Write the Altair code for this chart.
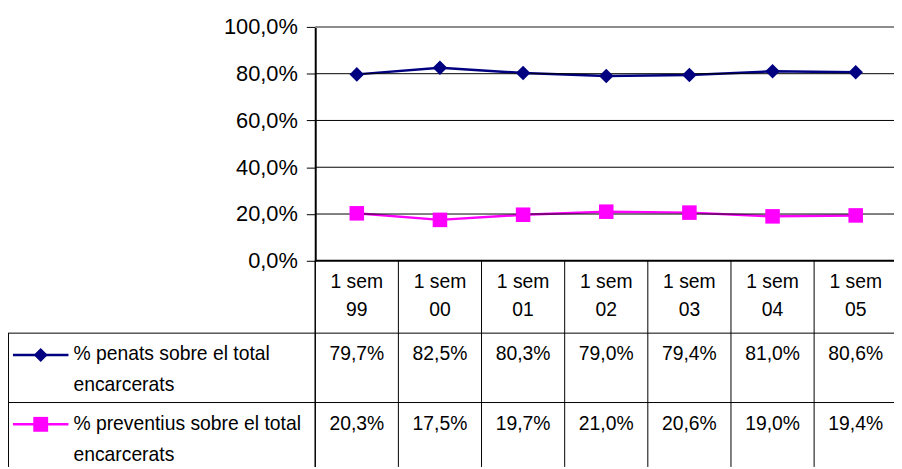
import altair as alt
import pandas as pd

# ---- data ----
periods_top = ["1 sem", "1 sem", "1 sem", "1 sem", "1 sem", "1 sem", "1 sem"]
periods_bottom = ["99", "00", "01", "02", "03", "04", "05"]
penats = [79.7, 82.5, 80.3, 79.0, 79.4, 81.0, 80.6]
preventius = [20.3, 17.5, 19.7, 21.0, 20.6, 19.0, 19.4]
series_names = ["% penats sobre el total encarcerats",
                "% preventius sobre el total encarcerats"]
legend_line1 = ["% penats sobre el total", "% preventius sobre el total"]
legend_line2 = ["encarcerats", "encarcerats"]
y_ticks = [0, 20, 40, 60, 80, 100]

FONT = "Liberation Sans, Arial, sans-serif"
NAVY = "#000080"
MAGENTA = "#FF00FF"
TFS = 19.5

n = len(periods_bottom)
idx = list(range(n))

long_rows = []
for i in idx:
    long_rows.append({"i": i, "series": series_names[0], "v": penats[i]})
    long_rows.append({"i": i, "series": series_names[1], "v": preventius[i]})
long_df = pd.DataFrame(long_rows)

xs = alt.Scale(domain=[-0.5, n - 0.5], range=[310, 310 + 83.9 * n])
ys = alt.Scale(domain=[0, 100], range=[253, 17])
color_scale = alt.Scale(domain=series_names, range=[NAVY, MAGENTA])
shape_scale = alt.Scale(domain=series_names, range=["diamond", "square"])

y_axis = alt.Axis(values=y_ticks,
                  labelExpr="replace(format(datum.value, '.1f'), '.', ',') + '%'",
                  offset=-310, tickSize=9, tickColor="black", tickWidth=1,
                  domain=True, domainColor="black", domainWidth=2, grid=False,
                  title=None, labelFont=FONT, labelFontSize=22, labelColor="black",
                  labelPadding=9)

# data lines (first layer, owns the y axis)
lines = alt.Chart(long_df).mark_line(strokeWidth=2.5).encode(
    x=alt.X("i:Q", scale=xs, axis=None),
    y=alt.Y("v:Q", scale=ys, axis=y_axis),
    color=alt.Color("series:N", scale=color_scale, legend=None),
    detail="series:N")
pts = alt.Chart(long_df).mark_point(filled=True, opacity=1, size=215).encode(
    x=alt.X("i:Q", scale=xs, axis=None),
    y=alt.Y("v:Q", scale=ys),
    color=alt.Color("series:N", scale=color_scale, legend=None),
    shape=alt.Shape("series:N", scale=shape_scale, legend=None))

# gridlines
grid_df = pd.DataFrame({"v": [t for t in y_ticks if 0 < t < 100]})
grid = alt.Chart(grid_df).mark_rule(color="black", strokeWidth=1).encode(
    y=alt.Y("v:Q", scale=ys),
    x=alt.value(310), x2=alt.value(894))
top_line = alt.Chart(pd.DataFrame({"v": [max(y_ticks)]})).mark_rule(
    color="#8c8c8c", strokeWidth=2).encode(
    y=alt.Y("v:Q", scale=ys), x=alt.value(310), x2=alt.value(894))
bottom_line = alt.Chart(pd.DataFrame({"v": [0]})).mark_rule(
    color="black", strokeWidth=2).encode(
    y=alt.Y("v:Q", scale=ys), x=alt.value(310), x2=alt.value(894))

# table structure
col_df = pd.DataFrame({"b": [k - 0.5 for k in range(1, n + 1)]})
col_lines = alt.Chart(col_df).mark_rule(color="black", strokeWidth=1).encode(
    x=alt.X("b:Q", scale=xs, axis=None), y=alt.value(253), y2=alt.value(461))
left_col = alt.Chart(pd.DataFrame({"b": [-0.5]})).mark_rule(
    color="black", strokeWidth=1.5).encode(
    x=alt.X("b:Q", scale=xs, axis=None), y=alt.value(253), y2=alt.value(461))
row1_line = alt.Chart(pd.DataFrame({"r": [1]})).mark_rule(
    color="black", strokeWidth=1).encode(
    x=alt.value(0), x2=alt.value(894), y=alt.value(326))
row2_line = alt.Chart(pd.DataFrame({"r": [2]})).mark_rule(
    color="black", strokeWidth=1).encode(
    x=alt.value(0), x2=alt.value(894), y=alt.value(396))
left_border = alt.Chart(pd.DataFrame({"r": [0]})).mark_rule(
    color="black", strokeWidth=1).encode(
    x=alt.value(0.5), y=alt.value(326), y2=alt.value(461))

# header & values
tab_df = pd.DataFrame({
    "i": idx, "top": periods_top, "bottom": periods_bottom,
    "p": [f"{v:.1f}".replace(".", ",") + "%" for v in penats],
    "q": [f"{v:.1f}".replace(".", ",") + "%" for v in preventius],
})
def txt(field, ypx):
    return alt.Chart(tab_df).mark_text(
        font=FONT, fontSize=TFS, color="black", align="center", baseline="alphabetic"
    ).encode(x=alt.X("i:Q", scale=xs, axis=None), y=alt.value(ypx), text=f"{field}:N")

hdr1 = txt("top", 280)
hdr2 = txt("bottom", 309)
val1 = txt("p", 353)
val2 = txt("q", 424)

# legend cells
leg_df = pd.DataFrame({"series": series_names, "l1": legend_line1, "l2": legend_line2})
def leg(k, ymid, ybase):
    d = leg_df.iloc[[k]]
    base = alt.Chart(d)
    line = base.mark_rule(strokeWidth=2.5).encode(
        x=alt.value(5), x2=alt.value(61), y=alt.value(ymid),
        color=alt.Color("series:N", scale=color_scale, legend=None))
    pt = base.mark_point(filled=True, opacity=1, size=(200 if k == 0 else 225)).encode(
        x=alt.value(33), y=alt.value(ymid),
        color=alt.Color("series:N", scale=color_scale, legend=None),
        shape=alt.Shape("series:N", scale=shape_scale, legend=None))
    t1 = base.mark_text(font=FONT, fontSize=TFS, color="black", align="left",
                        baseline="alphabetic").encode(
        x=alt.value(66), y=alt.value(ybase), text="l1:N")
    t2 = base.mark_text(font=FONT, fontSize=TFS, color="black", align="left",
                        baseline="alphabetic").encode(
        x=alt.value(66), y=alt.value(ybase + 31), text="l2:N")
    return [line, pt, t1, t2]

leg_layers = leg(0, 348, 353) + leg(1, 418, 424)

chart = alt.layer(
    lines, grid, top_line, col_lines, left_col, row1_line, row2_line, left_border,
    hdr1, hdr2, val1, val2, *leg_layers, pts, bottom_line
).properties(
    width=894, height=461, padding=0, autosize=alt.AutoSizeParams(type="none"),
    background="white"
).configure_view(stroke=None)

chart.save("out.html", embed_options={"renderer": "svg", "actions": False})
